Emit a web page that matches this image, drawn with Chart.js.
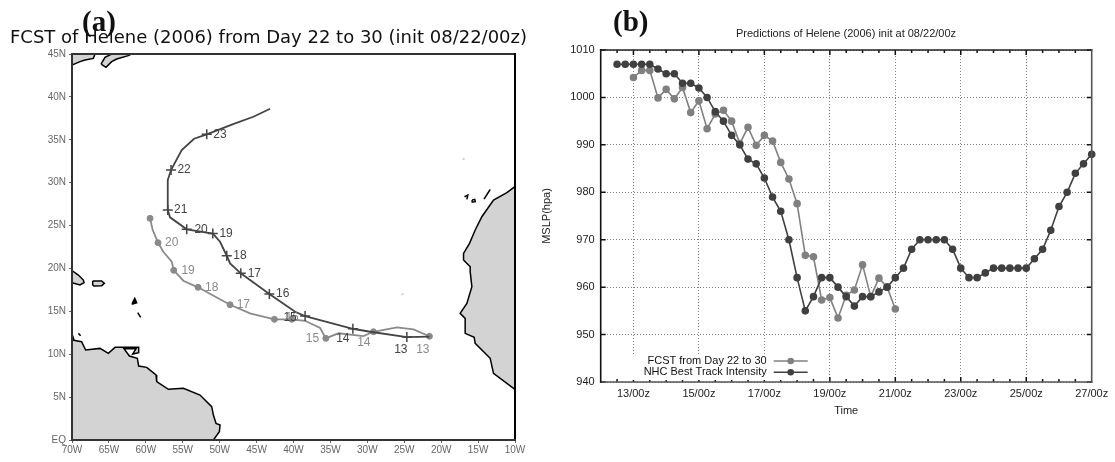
<!DOCTYPE html>
<html>
<head>
  <meta http-equiv="content-type" content="text/html; charset=utf-8"/>
  <script src="https://cdn.jsdelivr.net/npm/chart.js@4/dist/chart.umd.min.js"></script>
  <style>
    html, body { margin: 0; background: #fff; overflow: hidden; }
    canvas { position: absolute; top: 0; }
    #mapChart { left: 0; }
    #pressureChart { left: 535px; }
    .panel { position: absolute; font: bold 29px "Liberation Serif", serif; color: #111; z-index: 2; }
  </style>
</head>
<body>
<canvas id="mapChart" width="535" height="462"></canvas>
<canvas id="pressureChart" width="622" height="462"></canvas>
<div class="panel" style="left:82px;top:5px">(a)</div>
<div class="panel" style="left:613px;top:5px">(b)</div>

<script>
    // track panel, all in degrees (west is negative)
    const nhcTrackLon = [-21.59, -24.65, -29.62, -31.96, -38.43, -39.78, -43.27, -47.14, -48.59, -49.04, -49.95, -50.93, -54.46, -56.72, -57.03, -57.03, -56.59, -55.14, -53.47, -51.75, -48.18, -45.43, -43.17];
    const nhcTrackLat = [12.04, 12.0, 12.62, 12.97, 14.45, 14.95, 17.02, 19.43, 20.59, 21.48, 23.11, 24.07, 24.56, 25.96, 26.81, 30.3, 31.47, 33.8, 35.12, 35.63, 36.83, 37.68, 38.61];
    const nhcDayLon = [-24.65, -31.96, -38.43, -43.27, -47.14, -49.04, -50.93, -54.46, -57.03, -56.59, -51.75];
    const nhcDayLat = [12.0, 12.97, 14.45, 17.02, 19.43, 21.48, 24.07, 24.56, 26.81, 31.47, 35.63];
    const nhcLabelText = ['13', '14', '15', '16', '17', '18', '19', '20', '21', '22', '23'];
    const nhcLabelLon = [-25.46, -33.32, -40.46, -41.45, -45.3, -47.24, -49.13, -52.52, -55.27, -54.82, -49.95];
    const nhcLabelLat = [10.49, 11.85, 14.3, 17.02, 19.43, 21.45, 24.01, 24.56, 26.81, 31.47, 35.61];

    const fcstTrackLon = [-21.59, -23.75, -26, -29.17, -30.53, -33.92, -35.62, -36.4, -38.43, -40.23, -42.59, -45.88, -48.59, -52.93, -54.92, -56.22, -56.49, -57.63, -58.35, -59.07, -59.43];
    const fcstTrackLat = [12.09, 12.9, 13.13, 12.62, 12.12, 12.44, 11.85, 13.05, 13.9, 14.07, 14.07, 14.77, 15.77, 17.8, 18.57, 19.78, 20.78, 21.95, 23, 24.48, 25.84];
    const fcstDayLon = [-21.59, -29.17, -35.62, -40.23, -42.59, -48.59, -52.93, -56.22, -58.35, -59.43];
    const fcstDayLat = [12.09, 12.62, 11.85, 14.07, 14.07, 15.77, 17.8, 19.78, 23, 25.84];
    const fcstLabelText = ['13', '14', '15', '16', '17', '18', '19', '20'];
    const fcstLabelLon = [-22.48, -30.47, -37.44, -40.19, -46.79, -51.07, -54.28, -56.49];
    const fcstLabelLat = [10.57, 11.39, 11.85, 14.22, 15.73, 17.8, 19.78, 23];

    // coastlines
    const southAmericaLon = [-70, -68.7, -68.15, -66.2, -65.08, -64.17, -60.97, -60.97, -61.78, -61.33, -62.95, -62.23, -61.15, -60.97, -59.88, -58.62, -58.53, -56.95, -54.91, -52.66, -51.08, -50.85, -50.49, -49.95, -50.04, -50.85, -70];
    const southAmericaLat = [11.66, 11.46, 10.49, 10.68, 10.1, 10.8, 10.8, 10.18, 10.02, 10.64, 10.64, 9.79, 9.52, 8.62, 8.47, 7.58, 6.8, 5.91, 6.02, 5.24, 3.89, 2.91, 1.94, 1.75, 0.97, 0, 0];
    const africaLon = [-10.02, -11.1, -12.91, -14.49, -15.39, -16.16, -16.97, -16.97, -16.07, -16.07, -15.84, -16.52, -17.43, -16.75, -16.75, -15.53, -15.39, -13.36, -12.91, -10.02];
    const africaLat = [29.53, 28.83, 27.97, 26.03, 24.48, 22.92, 21.76, 20.98, 20.2, 19.62, 17.87, 15.93, 14.76, 14.18, 12.43, 11.97, 11.27, 9.52, 7.77, 5.91];
    const hispaniolaLon = [-70, -69.14, -68.46, -68.37, -68.92, -70];
    const hispaniolaLat = [19.74, 19.23, 18.65, 18.34, 18.07, 18.34];
    const puertoRicoLon = [-67.2, -65.98, -65.62, -65.98, -67.02, -67.2, -67.2];
    const puertoRicoLat = [18.53, 18.53, 18.26, 17.99, 17.95, 18.07, 18.53];
    const maineLon = [-70, -66.88, -67.11, -68.24, -68.92, -70];
    const maineLat = [45, 45, 44.49, 44.3, 44.11, 43.72];
    const novaScotiaLon = [-66.07, -65.53, -64.63, -61.92, -62.37, -63.95, -64.63, -65.39, -66.07];
    const novaScotiaLat = [43.83, 44.61, 45, 45, 44.81, 44.42, 44.11, 43.45, 43.83];
    const isletLons = [[-61.82, -61.5, -61.24, -61.78, -61.82], [-61.1, -60.7], [-69.14, -68.83], [-70, -69.73], [-16.84, -16.39, -16.52], [-15.8, -15.45, -15.38, -15.7, -15.8], [-14.2, -13.36]];
    const isletLats = [[16.0, 16.5, 16.0, 15.85, 16.0], [14.84, 14.3], [12.43, 12.16], [12.35, 11.66], [28.36, 28.55, 28.05], [27.97, 28.05, 27.78, 27.74, 27.97], [28.09, 29.2]];
    const speckLon = [-16.97, -25.24];
    const speckLat = [32.75, 17.0];

    // pressure panel
    const times = [];
    for (let d = 12; d <= 27; d++) {
        for (const h of ['00', '06', '12', '18']) {
            if (d < 27 || h === '00') times.push(d + '/' + h + 'z');
        }
    }
    // starts 13/00z
    const fcstValues = [1004.2, 1005.7, 1005.7, 999.9, 1001.7, 999.7, 1002.1, 996.8, 999.3, 993.4, 996.5, 997.3, 995, 990.3, 993.7, 989.9, 992, 990.8, 986.3, 982.8, 977.6, 966.7, 966.4, 957.3, 957.8, 953.5, 958.3, 959.4, 964.7, 958, 961.9, 960, 955.4];
    // starts 12/12z
    const nhcValues = [1007, 1007, 1007, 1007, 1007, 1006, 1005, 1005, 1003, 1003, 1002, 1000, 997, 995, 992, 990, 987, 986, 983, 979, 976, 970, 962, 955, 958, 962, 962, 960, 958, 956, 958, 958, 959, 960, 962, 964, 968, 970, 970, 970, 970, 968, 964, 962, 962, 963, 964, 964, 964, 964, 964, 966, 968, 972, 977, 980, 984, 986, 988];

    const zip = (xs, ys) => xs.map((x, i) => ({x: x, y: ys[i]}));

    const land = (lon, lat, fillIt) => ({
        type: 'scatter',
        data: zip(lon, lat),
        showLine: true,
        pointRadius: 0,
        borderColor: '#000',
        borderWidth: 1.5,
        backgroundColor: fillIt,
        fill: 'shape',
        order: 5
    });

    const frame = {
        id: 'frame',
        afterDraw(chart, args, opts) {
            const {ctx, chartArea: a} = chart;
            const sides = {
                top: [a.left, a.top, a.right, a.top],
                right: [a.right, a.top, a.right, a.bottom],
                bottom: [a.left, a.bottom, a.right, a.bottom],
                left: [a.left, a.top, a.left, a.bottom]
            };
            ctx.save();
            ctx.lineCap = 'square';
            for (const s in sides) {
                const p = sides[s];
                ctx.strokeStyle = opts[s];
                ctx.lineWidth = opts.width;
                ctx.beginPath();
                ctx.moveTo(p[0], p[1]);
                ctx.lineTo(p[2], p[3]);
                ctx.stroke();
            }
            ctx.restore();
        }
    };

    const dayLabels = {
        id: 'dayLabels',
        afterDatasetsDraw(chart) {
            const {ctx, scales: {x, y}} = chart;
            const draw = (text, lon, lat, color) => {
                ctx.fillStyle = color;
                text.forEach((t, i) => ctx.fillText(t, x.getPixelForValue(lon[i]), y.getPixelForValue(lat[i])));
            };
            ctx.save();
            ctx.font = '12px "Liberation Sans"';
            ctx.textAlign = 'center';
            ctx.textBaseline = 'middle';
            draw(fcstLabelText, fcstLabelLon, fcstLabelLat, '#8a8a8a');
            draw(nhcLabelText, nhcLabelLon, nhcLabelLat, '#444');
            ctx.restore();
        }
    };

    const inwardTicks = {
        id: 'inwardTicks',
        afterDatasetsDraw(chart) {
            const {ctx, chartArea: a, scales: {x, y}} = chart;
            ctx.save();
            ctx.strokeStyle = '#111';
            ctx.lineWidth = 1.5;
            ctx.beginPath();
            for (let i = 2; i < times.length - 1; i += 2) {
                const px = x.getPixelForValue(i);
                const len = (i - 4) % 8 === 0 ? 5 : 3;
                ctx.moveTo(px, a.bottom); ctx.lineTo(px, a.bottom - len);
                ctx.moveTo(px, a.top); ctx.lineTo(px, a.top + len);
            }
            for (const v of y.ticks) {
                const py = y.getPixelForValue(v.value);
                ctx.moveTo(a.left, py); ctx.lineTo(a.left + 5, py);
                ctx.moveTo(a.right, py); ctx.lineTo(a.right - 5, py);
            }
            ctx.stroke();
            ctx.restore();
        }
    };

    // gnuplot style key: text right aligned, sample on the right
    const keyBox = {
        id: 'keyBox',
        afterDatasetsDraw(chart) {
            const {ctx, chartArea: a} = chart;
            const textRight = a.left + 166, lineLeft = a.left + 173, lineRight = a.left + 207;
            ctx.save();
            ctx.fillStyle = '#fff';
            ctx.fillRect(a.left + 30, a.bottom - 27, 180, 25);
            ctx.font = '11px "Liberation Sans"';
            ctx.textAlign = 'right';
            ctx.textBaseline = 'middle';
            chart.data.datasets.forEach((ds, i) => {
                const py = a.bottom - 21 + i * 11.3;
                ctx.fillStyle = '#111';
                ctx.fillText(ds.label, textRight, py);
                ctx.strokeStyle = ds.borderColor;
                ctx.lineWidth = 1.6;
                ctx.beginPath();
                ctx.moveTo(lineLeft, py);
                ctx.lineTo(lineRight, py);
                ctx.stroke();
                ctx.fillStyle = ds.borderColor;
                ctx.beginPath();
                ctx.arc((lineLeft + lineRight) / 2, py, 3.3, 0, Math.PI * 2);
                ctx.fill();
            });
            ctx.restore();
        }
    };

    const mapTickFont = {family: '"Liberation Sans"', size: 10};

    new Chart(document.getElementById('mapChart'), {
        type: 'scatter',
        data: {
            datasets: [
                {data: zip(nhcDayLon, nhcDayLat), pointStyle: 'cross', pointRadius: 5, borderColor: '#444', borderWidth: 1.5, order: 0},
                {data: zip(nhcTrackLon, nhcTrackLat), showLine: true, pointRadius: 0, borderColor: '#444', borderWidth: 1.8, order: 1},
                {data: zip(fcstDayLon, fcstDayLat), pointRadius: 3, backgroundColor: '#8a8a8a', borderColor: '#8a8a8a', order: 2},
                {data: zip(fcstTrackLon, fcstTrackLat), showLine: true, pointRadius: 0, borderColor: '#8a8a8a', borderWidth: 1.8, order: 3},
                land(southAmericaLon, southAmericaLat, '#d3d3d3'),
                land(africaLon, africaLat, '#d3d3d3'),
                land(hispaniolaLon, hispaniolaLat, '#d3d3d3'),
                land(puertoRicoLon, puertoRicoLat, '#d3d3d3'),
                land(maineLon, maineLat, '#d3d3d3'),
                land(novaScotiaLon, novaScotiaLat, '#d3d3d3'),
                ...isletLons.map((lon, i) => land(lon, isletLats[i], i === 0 ? '#000' : '#fff')),
                {data: zip(speckLon, speckLat), pointStyle: 'rect', pointRadius: 1.5, backgroundColor: '#d3d3d3', borderWidth: 0, order: 6}
            ]
        },
        options: {
            responsive: false,
            animation: false,
            layout: {padding: {left: 10}},
            plugins: {
                legend: {display: false},
                tooltip: {enabled: false},
                title: {
                    display: true,
                    align: 'start',
                    text: 'FCST of Helene (2006) from Day 22 to 30 (init 08/22/00z)',
                    color: '#111',
                    font: {family: '"DejaVu Sans"', size: 18, weight: 'normal', lineHeight: 1.2},
                    padding: {top: 27.2, bottom: 5.2}
                },
                frame: {top: '#333', right: '#000', bottom: '#333', left: '#333', width: 2}
            },
            scales: {
                x: {
                    type: 'linear',
                    min: -70,
                    max: -10,
                    afterFit(s) { s.height = 22; },
                    grid: {drawOnChartArea: false, tickLength: 3, color: '#666'},
                    border: {display: false},
                    ticks: {stepSize: 5, padding: 1, maxRotation: 0, font: mapTickFont, color: '#666', callback: v => -v + 'W'}
                },
                y: {
                    type: 'linear',
                    min: 0,
                    max: 45,
                    afterFit(s) { s.width = 62; },
                    grid: {drawOnChartArea: false, tickLength: 3, color: '#666'},
                    border: {display: false},
                    ticks: {stepSize: 5, padding: 3, font: mapTickFont, color: '#666', callback: v => v === 0 ? 'EQ' : v + 'N'}
                },
                yRight: {
                    type: 'linear',
                    position: 'right',
                    afterFit(s) { s.width = 20; },
                    grid: {display: false},
                    border: {display: false},
                    ticks: {display: false}
                }
            }
        },
        plugins: [dayLabels, frame]
    });

    new Chart(document.getElementById('pressureChart'), {
        type: 'line',
        data: {
            labels: times,
            datasets: [
                {label: 'FCST from Day 22 to 30', data: [null, null, null, null].concat(fcstValues), borderColor: '#808080', backgroundColor: '#808080', borderWidth: 1.6, pointRadius: 3, pointHoverRadius: 3, order: 2},
                {label: 'NHC Best Track Intensity', data: [null, null].concat(nhcValues), borderColor: '#404040', backgroundColor: '#404040', borderWidth: 1.6, pointRadius: 3, pointHoverRadius: 3, order: 1}
            ]
        },
        options: {
            responsive: false,
            animation: false,
            plugins: {
                legend: {display: false},
                tooltip: {enabled: false},
                title: {
                    display: true,
                    text: 'Predictions of Helene (2006) init at 08/22/00z',
                    color: '#222',
                    font: {family: '"Liberation Sans"', size: 11, weight: 'normal', lineHeight: 1.2},
                    padding: {top: 27, bottom: 9.8}
                },
                frame: {top: '#222', right: '#555', bottom: '#555', left: '#111', width: 1.6}
            },
            scales: {
                x: {
                    afterFit(s) { s.height = 80; },
                    grid: {
                        drawTicks: false,
                        color: ctx => (ctx.index - 4) % 8 === 0 ? '#808080' : 'rgba(0,0,0,0)'
                    },
                    border: {display: false, dash: [1, 2]},
                    ticks: {
                        autoSkip: false,
                        maxRotation: 0,
                        padding: 5,
                        color: '#222',
                        font: {family: '"Liberation Sans"', size: 11},
                        callback: (v, i) => (i - 4) % 8 === 0 ? times[i] : ''
                    },
                    title: {display: true, text: 'Time', color: '#222', font: {family: '"Liberation Sans"', size: 11}, padding: {top: 0, bottom: 44}}
                },
                y: {
                    min: 940,
                    max: 1010,
                    afterFit(s) { s.width = 65.7; },
                    grid: {drawTicks: false, color: '#808080'},
                    border: {display: false, dash: [1, 2]},
                    ticks: {stepSize: 10, padding: 6, color: '#222', font: {family: '"Liberation Sans"', size: 11}, callback: v => String(v)},
                    title: {display: true, text: 'MSLP(hpa)', color: '#222', font: {family: '"Liberation Sans"', size: 11}, padding: {top: 5, bottom: 0}}
                },
                yRight: {
                    type: 'linear',
                    position: 'right',
                    afterFit(s) { s.width = 65.3; },
                    grid: {display: false},
                    border: {display: false},
                    ticks: {display: false}
                }
            }
        },
        plugins: [inwardTicks, keyBox, frame]
    });
</script>
</body>
</html>
